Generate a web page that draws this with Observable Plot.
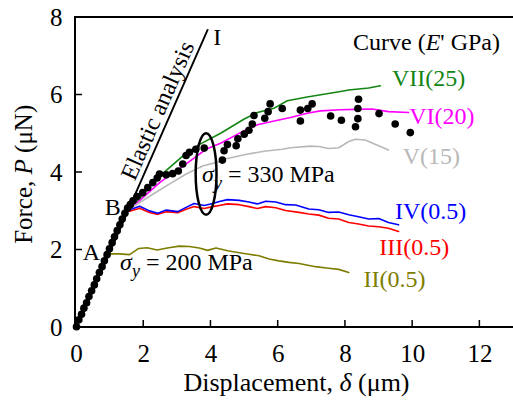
<!DOCTYPE html>
<html><head><meta charset="utf-8">
<script src="https://cdn.jsdelivr.net/npm/d3@7"></script>
<script src="https://cdn.jsdelivr.net/npm/@observablehq/plot@0.6"></script>
<style>body{margin:0;background:#fff} svg{display:block}</style>
</head><body><div id="chart"></div>
<script>
const xTicks = [0, 2, 4, 6, 8, 10, 12];
const yTicks = [0, 2, 4, 6, 8];

const elastic = [[0, 0], [3.9, 7.68]];

const curveII = [[0,0],[0.9,1.9],[1.28,1.9],[1.58,1.88],[1.85,2.04],[2.1,2.06],[2.4,2.0],[2.7,2.05],[3.06,2.1],[3.36,2.09],[3.65,2.05],[3.9,1.99],[4.15,2.05],[4.5,1.98],[4.84,1.93],[5.13,1.89],[5.43,1.85],[5.73,1.77],[6.02,1.72],[6.32,1.68],[6.62,1.65],[7.11,1.57],[7.5,1.53],[7.8,1.5],[8.1,1.42]];
const curveIII = [[0,0],[1.5,3.05],[1.58,3.0],[1.88,3.08],[2.17,2.97],[2.42,2.92],[2.67,2.99],[3.01,2.96],[3.26,3.05],[3.5,3.12],[3.8,3.07],[4.05,3.12],[4.25,3.15],[4.49,3.19],[4.84,3.17],[5.13,3.12],[5.38,3.07],[5.63,3.12],[5.93,3.09],[6.22,3.02],[6.62,2.97],[6.91,2.93],[7.21,2.9],[7.5,2.82],[7.8,2.8],[8.1,2.71],[8.39,2.67],[8.69,2.62],[8.99,2.6],[9.28,2.56],[9.58,2.48]];
const curveIV = [[0,0],[1.5,3.05],[1.58,3.04],[1.88,3.13],[2.17,3.01],[2.42,2.95],[2.67,3.03],[3.01,2.99],[3.26,3.1],[3.5,3.2],[3.8,3.15],[4.05,3.2],[4.25,3.25],[4.49,3.3],[4.84,3.28],[5.13,3.24],[5.38,3.19],[5.63,3.26],[5.93,3.24],[6.22,3.17],[6.52,3.16],[6.91,3.06],[7.21,3.04],[7.5,2.97],[7.8,2.98],[8.1,2.91],[8.39,2.86],[8.69,2.8],[8.99,2.81],[9.28,2.71],[9.58,2.65]];
const curveV = [[0,0],[1.5,3.05],[1.58,3.06],[2.27,3.44],[2.76,3.7],[3.26,3.96],[3.75,4.17],[4.25,4.28],[4.39,4.34],[4.99,4.46],[5.58,4.55],[6.12,4.6],[6.37,4.64],[6.96,4.68],[7.21,4.67],[7.5,4.62],[7.8,4.64],[8.1,4.8],[8.3,4.86],[8.59,4.84],[9.28,4.58]];
const curveVI = [[0,0],[1.5,3.05],[1.88,3.28],[2.5,3.76],[3.06,4.1],[3.5,4.37],[3.85,4.6],[4.3,4.76],[4.99,5.08],[5.38,5.23],[5.88,5.33],[6.37,5.42],[6.86,5.53],[7.26,5.59],[7.85,5.62],[8.3,5.63],[8.79,5.64],[9.28,5.57],[9.88,5.55]];
const curveVII = [[0,0],[1.5,3.05],[1.88,3.33],[2.4,3.85],[2.8,4.15],[3.16,4.42],[3.65,4.72],[4.3,5.02],[4.99,5.38],[5.38,5.55],[5.88,5.66],[6.27,5.85],[6.86,5.95],[7.36,6.02],[7.85,6.09],[8.1,6.13],[8.69,6.18],[9.04,6.24]];

const experiment = [[0,0.02],[0.07,0.2],[0.15,0.34],[0.22,0.5],[0.3,0.64],[0.37,0.8],[0.45,0.95],[0.53,1.1],[0.6,1.26],[0.68,1.42],[0.76,1.57],[0.83,1.72],[0.91,1.88],[0.98,2.03],[1.06,2.19],[1.13,2.34],[1.21,2.5],[1.29,2.65],[1.36,2.8],[1.44,2.95],[1.52,3.08],
[1.6,3.17],[1.68,3.27],[1.8,3.38],[1.97,3.48],[2.12,3.61],[2.27,3.74],[2.4,3.86],[2.47,3.96],[2.67,3.94],[2.86,3.97],[3.03,4.04],[3.16,4.22],[3.26,4.44],[3.36,4.52],[3.55,4.6],[3.8,4.63],[4.34,4.32],[4.39,4.56],[4.49,4.72],[4.75,4.69],[4.8,4.87],[4.99,4.99],[5.13,5.09],[5.23,5.25],[5.28,5.47],[5.6,5.4],[5.7,5.57],[5.76,5.77],[6.12,5.65],[6.66,5.61],[6.66,5.33],[6.88,5.65],[7.01,5.77],[7.56,5.46],[7.88,5.35],[8.3,5.18],[8.37,5.39],[8.37,5.65],[8.39,5.89],[9.0,5.52],[9.48,5.25],[9.93,5.03]];

const seriesNames = ["II(0.5)", "III(0.5)", "IV(0.5)", "V(15)", "VI(20)", "VII(25)"];
const seriesColors = ["#7d7d00", "#ff0000", "#0000ff", "#b8b8b8", "#ff00ff", "#138513"];
const seriesData = [curveII, curveIII, curveIV, curveV, curveVI, curveVII];
const labelPos = [[8.55, 1.03], [9.02, 1.85], [9.49, 2.8], [9.72, 4.2], [9.91, 5.23], [9.4, 6.21]];

const ellipse = {cx: 3.87, cy: 3.95, rx: 0.31, ry: 1.05};

const notes = [
  {x: 4.08, y: 7.27, parts: [["I"]]},
  {x: 1.09, y: 3.11, parts: [["B"]], anchor: "middle", center: true},
  {x: 0.46, y: 1.95, parts: [["A"]], anchor: "middle", center: true},
  {x: 1.31, y: 1.46, parts: [["σ", "i"], ["y", "sub"], [" = 200 MPa"]]},
  {x: 3.75, y: 3.73, parts: [["σ", "i"], ["y", "sub"], [" = 330 MPa"]]},
  {x: 8.24, y: 7.14, parts: [["Curve ("], ["E", "i"], ["' GPa)"]]}
];

const rows = [];
seriesData.forEach((pts, k) => pts.forEach(([x, y]) => rows.push({x, y, s: seriesNames[k]})));

const W = 513, H = 405;
const chart = Plot.plot({
  width: W, height: H,
  marginLeft: 76, marginRight: 0, marginTop: 17, marginBottom: 78,
  x: {domain: [0, 13]},
  y: {domain: [0, 8]},
  color: {domain: seriesNames, range: seriesColors},
  style: {fontFamily: "Liberation Serif", fontSize: "25px", background: "white", overflow: "visible"},
  marks: [
    Plot.axisX({ticks: xTicks, tickSize: 0, tickPadding: 17, label: null, fontSize: 25, tickFormat: d => String(d)}),
    Plot.axisY({ticks: yTicks, tickSize: 0, tickPadding: 14, label: null, fontSize: 25, tickFormat: d => String(d)}),
    Plot.line(elastic, {x: d => d[0], y: d => d[1], stroke: "black", strokeWidth: 1.9}),
    Plot.line(rows, {x: "x", y: "y", z: "s", stroke: "s", strokeWidth: 1.6}),
    Plot.dot(experiment, {x: d => d[0], y: d => d[1], r: 3.8, fill: "black", stroke: "none"})
  ]
});
document.getElementById("chart").appendChild(chart);

const sx = chart.scale("x"), sy = chart.scale("y");
const X = v => sx.apply(v), Y = v => sy.apply(v);
const svg = d3.select(chart);
const g = svg.append("g");

// frame
const x0 = X(0) - 1;
g.append("line").attr("x1", x0).attr("x2", W).attr("y1", Y(0)).attr("y2", Y(0)).attr("stroke", "black").attr("stroke-width", 2);
g.append("line").attr("x1", x0).attr("x2", W).attr("y1", Y(8)).attr("y2", Y(8)).attr("stroke", "black").attr("stroke-width", 2);
g.append("line").attr("x1", x0).attr("x2", x0).attr("y1", Y(8) - 1).attr("y2", Y(0) + 1).attr("stroke", "black").attr("stroke-width", 2);
xTicks.forEach(t => g.append("line").attr("x1", X(t)).attr("x2", X(t)).attr("y1", Y(0)).attr("y2", Y(0) - 7).attr("stroke", "black").attr("stroke-width", 1.5));
yTicks.forEach(t => g.append("line").attr("x1", x0).attr("x2", x0 + 7).attr("y1", Y(t)).attr("y2", Y(t)).attr("stroke", "black").attr("stroke-width", 1.5));

// ellipse
g.append("ellipse").attr("cx", X(ellipse.cx)).attr("cy", Y(ellipse.cy))
  .attr("rx", X(ellipse.cx + ellipse.rx) - X(ellipse.cx)).attr("ry", Y(ellipse.cy - ellipse.ry) - Y(ellipse.cy))
  .attr("fill", "none").attr("stroke", "black").attr("stroke-width", 2.5);

function addText(px, py, parts, opts = {}) {
  const t = g.append("text").attr("x", px).attr("y", py)
    .attr("font-family", "Liberation Serif").attr("font-size", opts.size || 24)
    .attr("fill", opts.color || "black").attr("text-anchor", opts.anchor || "start");
  if (opts.center) t.attr("dy", "0.35em");
  if (opts.transform) t.attr("transform", opts.transform);
  let shifted = false;
  parts.forEach(([s, st]) => {
    const sp = t.append("tspan").text(s);
    if (st === "i") sp.attr("font-style", "italic");
    if (st === "sub") { sp.attr("font-style", "italic").attr("font-size", 18).attr("dy", 7); shifted = true; }
    else if (shifted) { sp.attr("dy", -7); shifted = false; }
  });
  return t;
}

notes.forEach(n => addText(X(n.x), Y(n.y), n.parts, n));
seriesNames.forEach((name, k) => addText(X(labelPos[k][0]), Y(labelPos[k][1]), [[name]], {color: seriesColors[k]}));

// elastic label, rotated along the line
const ang = Math.atan2(Y(elastic[1][1]) - Y(elastic[0][1]), X(elastic[1][0]) - X(elastic[0][0])) * 180 / Math.PI;
const ec = [X(2.41), Y(5.59)];
addText(0, 0, [["Elastic analysis"]], {anchor: "middle", center: true, transform: `translate(${ec[0]},${ec[1]}) rotate(${ang})`});

// axis titles
addText((X(0) + W) / 2 + 2, H - 14, [["Displacement, "], ["δ", "i"], [" (μm)"]], {anchor: "middle", size: 26});
addText(0, 0, [["Force, "], ["P", "i"], [" (μN)"]], {anchor: "middle", size: 25, transform: `translate(32,${Y(3.94)}) rotate(-90)`});
</script></body></html>
